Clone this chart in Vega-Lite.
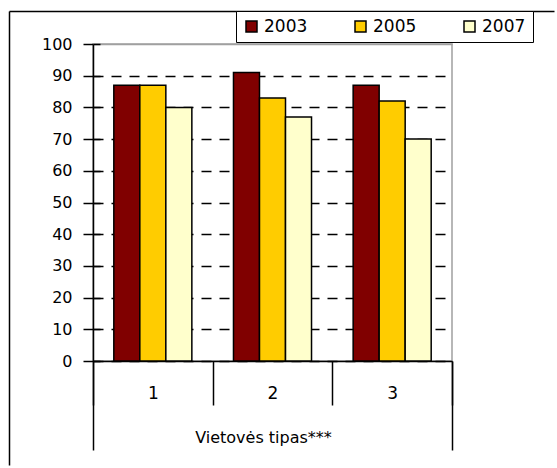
{
  "$schema": "https://vega.github.io/schema/vega-lite/v6.json",
  "width": 359,
  "height": 317,
  "autosize": {"type": "none"},
  "padding": {"left": 93, "top": 44, "right": 105, "bottom": 107},
  "background": "white",
  "config": {"view": {"stroke": "#a0a0a0", "strokeWidth": 1.5}, "font": "DejaVu Sans"},
  "data": {"values": [
    {"type": "1", "year": "2003", "value": 87},
    {"type": "1", "year": "2005", "value": 87},
    {"type": "1", "year": "2007", "value": 80},
    {"type": "2", "year": "2003", "value": 91},
    {"type": "2", "year": "2005", "value": 83},
    {"type": "2", "year": "2007", "value": 77},
    {"type": "3", "year": "2003", "value": 87},
    {"type": "3", "year": "2005", "value": 82},
    {"type": "3", "year": "2007", "value": 70}
  ]},
  "layer": [
    {
      "mark": {"type": "bar", "stroke": "black", "strokeWidth": 1.5},
      "encoding": {
        "x": {
          "field": "type", "type": "nominal",
          "scale": {"paddingInner": 0, "paddingOuter": 0},
          "axis": {
            "title": "Vietovės tipas***",
            "labelAngle": 0,
            "tickBand": "extent",
            "tickSize": 44,
            "tickColor": "black",
            "tickWidth": 1.5,
            "domainColor": "black",
            "domainWidth": 1.5,
            "labelFontSize": 17,
            "labelColor": "black",
            "labelPadding": -20,
            "titleFontSize": 16,
            "titleFontWeight": "normal",
            "titleColor": "black",
            "titleY": 76,
            "titleX": 170,
            "titleBaseline": "middle"
          }
        },
        "xOffset": {"field": "year", "type": "nominal", "scale": {"paddingInner": 0, "paddingOuter": 0.8}},
        "y": {
          "field": "value", "type": "quantitative",
          "scale": {"domain": [0, 100], "nice": false},
          "axis": {
            "title": null,
            "values": [0, 10, 20, 30, 40, 50, 60, 70, 80, 90, 100],
            "tickSize": 10,
            "tickColor": "black",
            "tickWidth": 1.5,
            "domainColor": "black",
            "domainWidth": 1.5,
            "labelFontSize": 16,
            "labelColor": "black",
            "labelPadding": 11,
            "grid": true,
            "gridColor": {"condition": {"test": "datum.value === 100", "value": "#a0a0a0"}, "value": "black"},
            "gridDash": {"condition": {"test": "datum.value === 100", "value": []}, "value": [10, 8]},
            "gridWidth": 1.5
          }
        },
        "color": {
          "field": "year", "type": "nominal",
          "scale": {"domain": ["2003", "2005", "2007"], "range": ["#800000", "#FFCC00", "#FFFFCC"]},
          "legend": {
            "title": null,
            "orient": "none",
            "legendX": 143,
            "legendY": -33,
            "direction": "horizontal",
            "strokeColor": "black",
            "fillColor": "white",
            "padding": 7,
            "symbolType": "square",
            "symbolSize": 121,
            "symbolStrokeColor": "black",
            "symbolStrokeWidth": 1.5,
            "labelFontSize": 17,
            "labelColor": "black",
            "labelOffset": 4,
            "columnPadding": 44
          }
        }
      }
    },
    {
      "mark": {"type": "bar", "opacity": 0},
      "encoding": {
        "x": {
          "field": "type", "type": "nominal",
          "axis": {
            "orient": "bottom", "offset": 0, "values": ["1"], "bandPosition": 3, "tickExtra": true,
            "tickSize": 89, "tickColor": "black", "tickWidth": 1.5,
            "labels": false, "domain": false, "grid": false, "title": null
          }
        },
        "y": {
          "field": "value", "type": "quantitative",
          "axis": {
            "orient": "left", "offset": -7, "values": [0, 10, 20, 30, 40, 50, 60, 70, 80, 90, 100],
            "tickSize": 7, "tickColor": "black", "tickWidth": 1.5,
            "labels": false, "domain": false, "grid": false, "title": null
          }
        }
      }
    },
    {
      "mark": {"type": "bar", "opacity": 0},
      "encoding": {
        "x": {
          "field": "type", "type": "nominal",
          "axis": {
            "orient": "top", "offset": 33, "values": ["1"], "bandPosition": 0, "tickOffset": -84,
            "tickSize": -454, "tickColor": "black", "tickWidth": 1.5,
            "labels": false, "domain": false, "grid": false, "title": null
          }
        },
        "y": {
          "field": "value", "type": "quantitative",
          "axis": {
            "orient": "left", "offset": 84, "values": [100], "tickOffset": -33,
            "tickSize": -545, "tickColor": "black", "tickWidth": 1.5,
            "labels": false, "domain": false, "grid": false, "title": null
          }
        }
      }
    }
  ],
  "resolve": {"axis": {"x": "independent", "y": "independent"}}
}
